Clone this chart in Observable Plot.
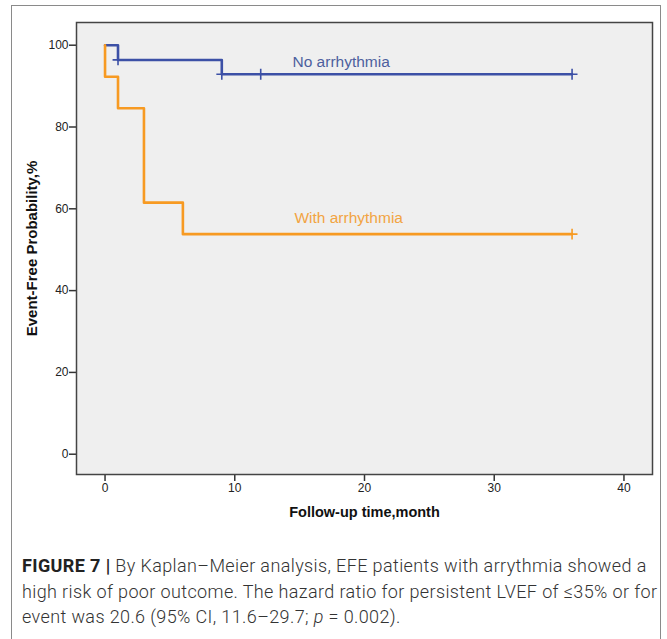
<!DOCTYPE html>
<html>
<head>
<meta charset="utf-8">
<script src="https://cdn.jsdelivr.net/npm/d3@7"></script>
<script src="https://cdn.jsdelivr.net/npm/@observablehq/plot@0.6"></script>
<style>
  html, body { margin: 0; padding: 0; background: #fff; }
  body { width: 667px; height: 639px; position: relative; overflow: hidden; }
  #frame { position: absolute; left: 11px; top: 5px; width: 650px; height: 700px; border: 1.5px solid #8a8a8a; box-sizing: border-box; }
  #chart { position: absolute; left: 0; top: 0; }
  #caption { position: absolute; left: 22px; top: 553px; width: 645px; white-space: nowrap; font-family: Roboto, "Liberation Sans", sans-serif; font-weight: 300; font-size: 18px; letter-spacing: 0.38px; line-height: 25.5px; color: #333; }
  #caption b { font-weight: bold; color: #222; }
</style>
</head>
<body>
<div id="frame"></div>
<div id="chart"></div>
<div id="caption"><b>FIGURE 7 |</b> By Kaplan–Meier analysis, EFE patients with arrythmia showed a<br>high risk of poor outcome. The hazard ratio for persistent LVEF of ≤35% or for<br>event was 20.6 (95% CI, 11.6–29.7; <i>p</i> = 0.002).</div>
<script>
// Data
const groups = ["No arrhythmia", "With arrhythmia"];
const noArrTime = [0, 1, 9, 36];
const noArrSurv = [100, 96.4, 92.9, 92.9];
const withArrTime = [0, 0, 1, 3, 6, 36];
const withArrSurv = [100, 92.3, 84.6, 61.5, 53.8, 53.8];
const noArrCensorTime = [1, 9, 12, 36];
const noArrCensorSurv = [96.4, 92.9, 92.9, 92.9];
const withArrCensorTime = [36];
const withArrCensorSurv = [53.8];
const xTicks = [0, 10, 20, 30, 40];
const yTicks = [0, 20, 40, 60, 80, 100];
const labelPos = [
  {name: groups[0], t: 14.45, s: 96.0},
  {name: groups[1], t: 14.6, s: 57.8}
];

const colors = {"No arrhythmia": "#3c50a6", "With arrhythmia": "#f79a22"};
const textColors = {"No arrhythmia": "#4d5f9e", "With arrhythmia": "#f2a443"};

const noArr = noArrTime.map((t, i) => ({t, s: noArrSurv[i], g: groups[0]}));
const withArr = withArrTime.map((t, i) => ({t, s: withArrSurv[i], g: groups[1]}));
const censors = [
  ...noArrCensorTime.map((t, i) => ({t, s: noArrCensorSurv[i], g: groups[0]})),
  ...withArrCensorTime.map((t, i) => ({t, s: withArrCensorSurv[i], g: groups[1]}))
];

const plot = Plot.plot({
  width: 667,
  height: 530,
  marginLeft: 76,
  marginRight: 15,
  marginTop: 22,
  marginBottom: 56,
  style: {fontFamily: "'Liberation Sans', Arial, sans-serif", fontSize: "12px", color: "#222", background: "transparent"},
  x: {domain: [-2.2, 42.2], label: null},
  y: {domain: [-4.96, 105.55], label: null},
  marks: [
    Plot.frame({fill: "#efefef", stroke: "none"}),
    Plot.axisX({ticks: xTicks, tickSize: 7, tickPadding: 2, label: null, stroke: "#333", strokeWidth: 1.5, fill: "#222", fontSize: 12}),
    Plot.axisY({ticks: yTicks, tickSize: 7, tickPadding: 1, label: null, stroke: "#333", strokeWidth: 1.5, fill: "#222", fontSize: 12}),
    Plot.line(noArr, {x: "t", y: "s", curve: "step-after", stroke: colors[groups[0]], strokeWidth: 2.6}),
    Plot.line(withArr, {x: "t", y: "s", curve: "step-after", stroke: colors[groups[1]], strokeWidth: 2.6}),
    Plot.dot(censors, {x: "t", y: "s", symbol: "plus", r: 3.6, stroke: d => colors[d.g], strokeWidth: 1.6}),
    Plot.text(labelPos, {x: "t", y: "s", text: "name", textAnchor: "start", fill: d => textColors[d.name], fontSize: 15.5, fontFamily: "'Liberation Sans', Arial, sans-serif"}),
    Plot.frame({stroke: "#444", strokeWidth: 1.5}),
    Plot.text(["Follow-up time,month"], {frameAnchor: "bottom", dy: 42, fontWeight: "bold", fontSize: 14.5, fill: "#111"}),
    Plot.text(["Event-Free Probability,%"], {frameAnchor: "left", textAnchor: "middle", dx: -44, rotate: -90, fontWeight: "bold", fontSize: 15, fill: "#111"})
  ]
});
document.getElementById("chart").appendChild(plot);
</script>
</body>
</html>
